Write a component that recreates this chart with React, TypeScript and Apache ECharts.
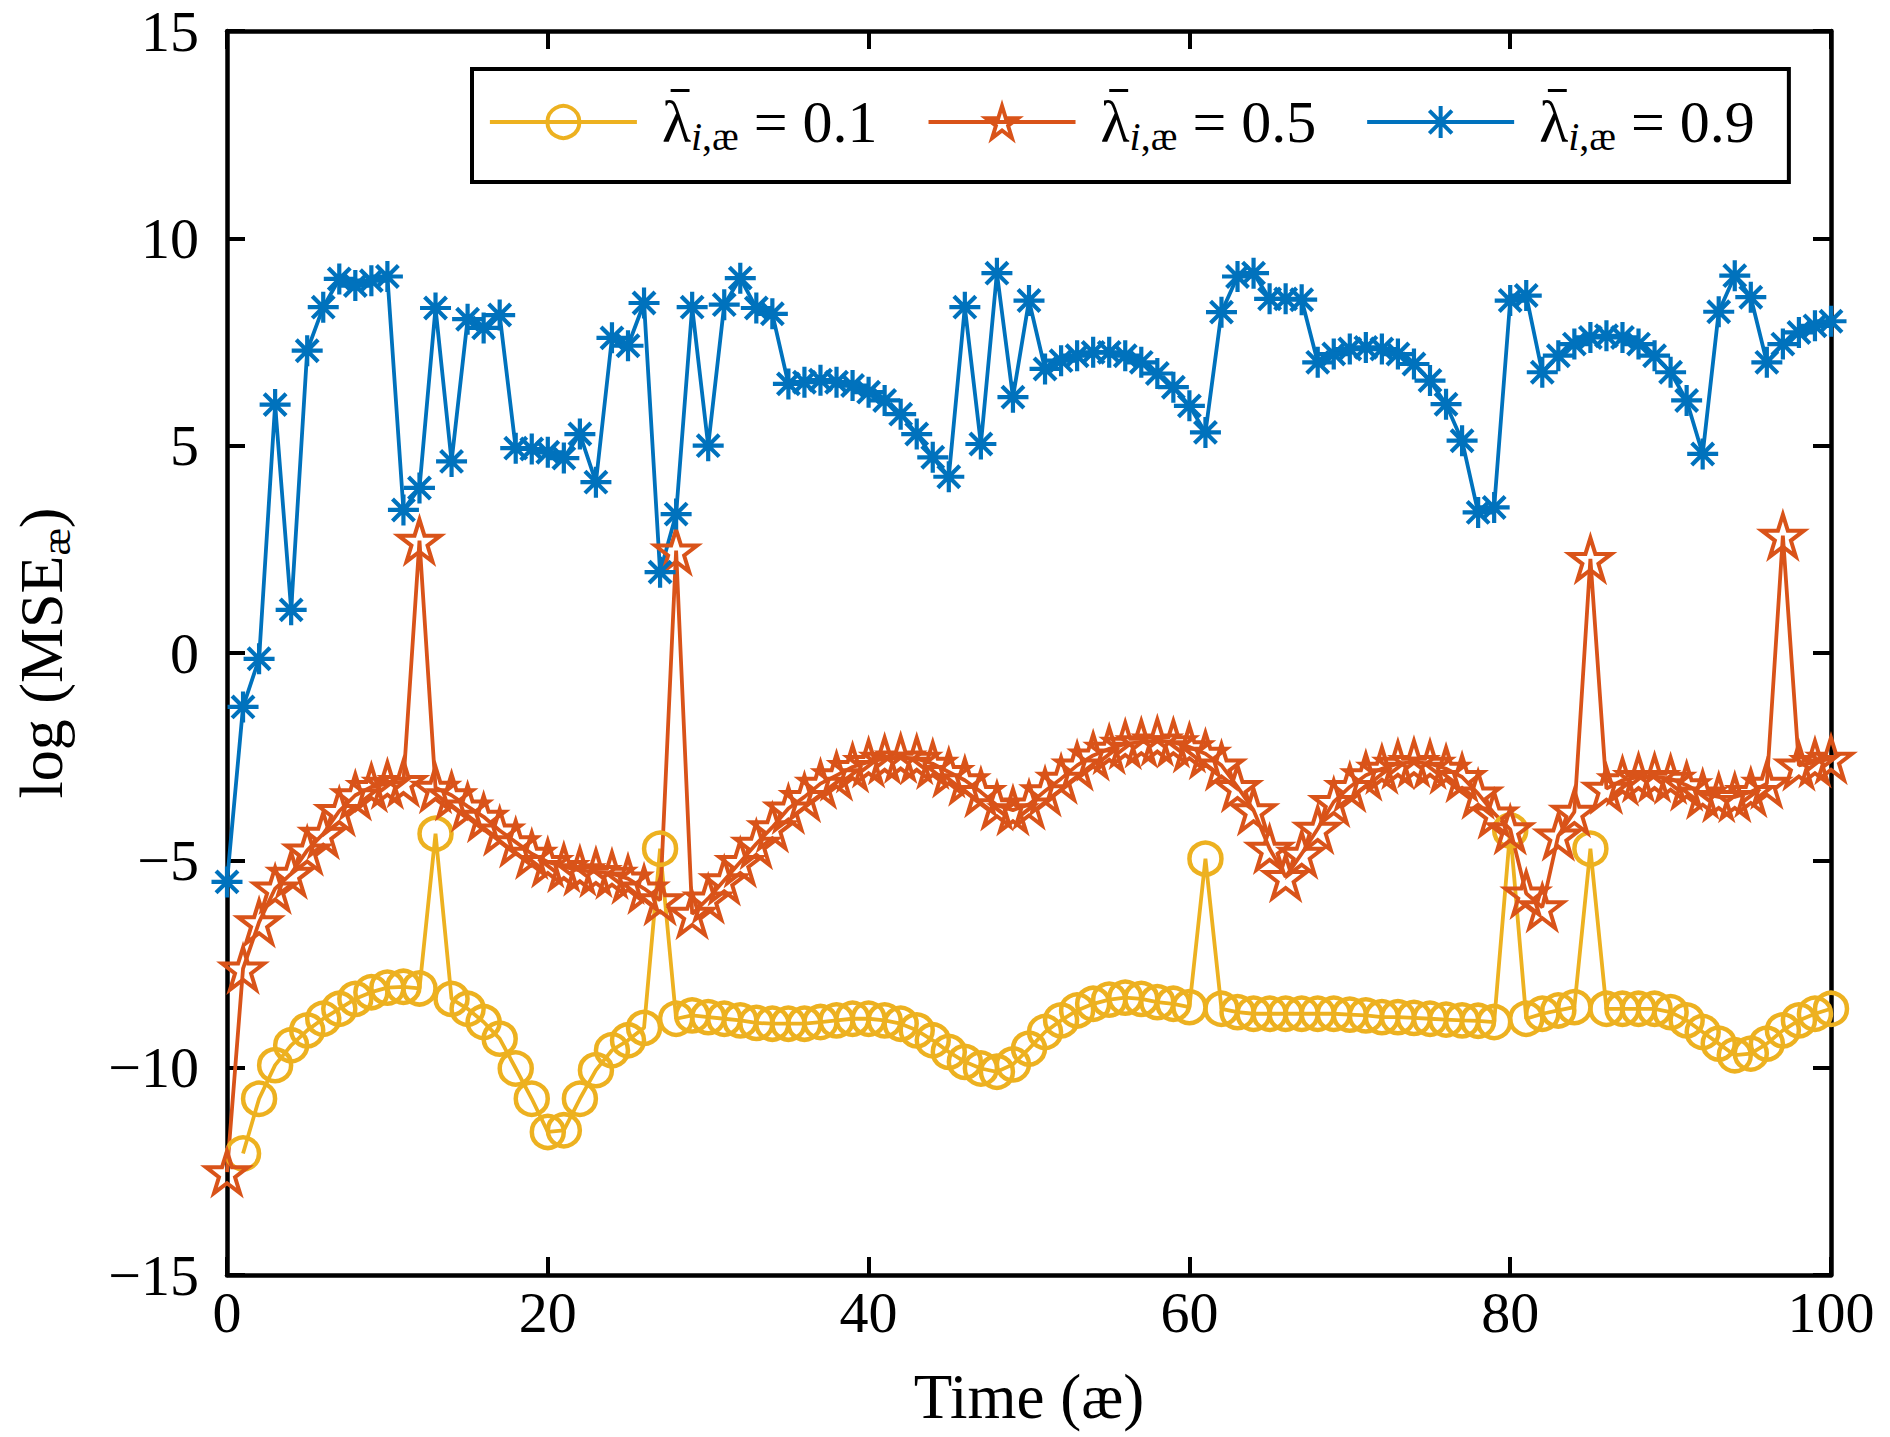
import React, { useEffect, useRef } from "react";
import * as echarts from "echarts";

// ---- data ----
const xTicks = [0, 20, 40, 60, 80, 100];
const yTicks = [-15, -10, -5, 0, 5, 10, 15];
const seriesLabels = ["0.1", "0.5", "0.9"];

const lambda01: (number | null)[] = [
  null, -12.07, -10.75, -9.94, -9.46, -9.1, -8.82, -8.58, -8.34, -8.18,
  -8.07, -8.05, -8.09, -4.36, -8.34, -8.58, -8.9, -9.3, -10.02, -10.75,
  -11.55, -11.51, -10.75, -10.06, -9.58, -9.34, -9.04, -4.72, -8.82, -8.74,
  -8.78, -8.82, -8.86, -8.92, -8.94, -8.94, -8.94, -8.9, -8.86, -8.82,
  -8.82, -8.86, -8.94, -9.1, -9.34, -9.62, -9.86, -10.02, -10.1, -9.92,
  -9.54, -9.14, -8.86, -8.62, -8.46, -8.36, -8.31, -8.34, -8.42, -8.46,
  -8.54, -4.96, -8.58, -8.66, -8.7, -8.7, -8.7, -8.7, -8.7, -8.7,
  -8.72, -8.74, -8.78, -8.78, -8.8, -8.82, -8.84, -8.86, -8.87, -8.9,
  -4.28, -8.82, -8.7, -8.62, -8.54, -4.72, -8.58, -8.58, -8.58, -8.58,
  -8.66, -8.86, -9.14, -9.42, -9.7, -9.66, -9.42, -9.1, -8.86, -8.7,
  -8.58,
];

const lambda05 = [
  -12.52, -7.61, -6.49, -5.68, -5.32, -4.76, -4.36, -3.81, -3.43, -3.23,
  -3.15, -3.11, 2.71, -3.25, -3.43, -3.7, -3.95, -4.28, -4.56, -4.84,
  -5.04, -5.16, -5.24, -5.28, -5.32, -5.44, -5.68, -5.96, 2.47, -6.29,
  -5.92, -5.48, -5.04, -4.6, -4.2, -3.75, -3.47, -3.15, -2.95, -2.75,
  -2.63, -2.55, -2.52, -2.55, -2.67, -2.87, -3.07, -3.35, -3.67, -3.79,
  -3.65, -3.33, -3.03, -2.71, -2.47, -2.31, -2.19, -2.15, -2.11, -2.15,
  -2.27, -2.43, -2.71, -3.23, -3.79, -4.72, -5.4, -4.84, -4.24, -3.59,
  -3.23, -2.95, -2.79, -2.67, -2.63, -2.67, -2.79, -2.99, -3.39, -3.87,
  -4.25, -5.8, -6.13, -4.4, -3.83, 2.27, -3.27, -3.07, -2.99, -2.99,
  -3.03, -3.19, -3.39, -3.47, -3.47, -3.35, -3.15, 2.83, -2.71, -2.63,
  -2.55,
];

const lambda09 = [
  -5.52, -1.3, -0.14, 5.99, 1.04, 7.29, 8.34, 9.02, 8.86, 8.98,
  9.08, 3.45, 3.98, 8.32, 4.62, 8.05, 7.84, 8.15, 4.94, 4.92,
  4.84, 4.7, 5.28, 4.12, 7.6, 7.41, 8.44, 1.95, 3.35, 8.34,
  5.0, 8.4, 9.04, 8.32, 8.18, 6.49, 6.53, 6.58, 6.53, 6.45,
  6.29, 6.09, 5.76, 5.28, 4.72, 4.25, 8.34, 5.04, 9.16, 6.17,
  8.5, 6.85, 7.05, 7.17, 7.25, 7.25, 7.17, 7.01, 6.74, 6.41,
  5.96, 5.32, 8.22, 9.08, 9.16, 8.54, 8.54, 8.52, 7.01, 7.21,
  7.33, 7.37, 7.33, 7.21, 6.97, 6.57, 6.0, 5.12, 3.39, 3.51,
  8.5, 8.62, 6.77, 7.17, 7.45, 7.61, 7.65, 7.61, 7.45, 7.17,
  6.77, 6.09, 4.8, 8.23, 9.1, 8.58, 7.01, 7.45, 7.73, 7.89,
  8.0,
];

// ---- styling ----
const FONT = "Liberation Serif";
const YELLOW = "#EDB120";
const ORANGE = "#D95319";
const BLUE = "#0072BD";
const LAMBDA = "\u03BB";
const STAR =
  "path://M0,-1L0.2245,-0.309L0.9511,-0.309L0.3633,0.118L0.5878,0.809L0,0.382L-0.5878,0.809L-0.3633,0.118L-0.9511,-0.309L-0.2245,-0.309Z";
const ASTERISK =
  "path://M0,-1L0,1M-1,0L1,0M-0.707,-0.707L0.707,0.707M-0.707,0.707L0.707,-0.707";

const toPairs = (arr: (number | null)[]) => arr.map((v, i) => [i, v == null ? "-" : v]);
const fmtNum = (v: number) => (v < 0 ? "\u2212" + Math.abs(v) : String(v));

function baseAxis() {
  return {
    axisLine: { show: true, onZero: false, lineStyle: { color: "#000", width: 4.5 } },
    axisTick: { show: true, inside: true, length: 18, lineStyle: { color: "#000", width: 4 } },
    splitLine: { show: false },
  };
}

export default function App() {
  const ref = useRef<HTMLDivElement>(null);

  useEffect(() => {
    if (!ref.current) return;
    const chart = echarts.init(ref.current, undefined, { renderer: "svg" });
    const xMin = xTicks[0];
    const xMax = xTicks[xTicks.length - 1];
    const xInt = xTicks[1] - xTicks[0];
    const yMin = yTicks[0];
    const yMax = yTicks[yTicks.length - 1];
    const yInt = yTicks[1] - yTicks[0];

    const mkLine = (
      name: string,
      data: (number | null)[],
      color: string,
      symbol: string,
      symbolSize: number,
      borderWidth: number
    ) => ({
      type: "line",
      name,
      data: toPairs(data),
      xAxisIndex: 0,
      yAxisIndex: 0,
      color,
      symbol,
      symbolSize,
      showAllSymbol: true,
      connectNulls: false,
      lineStyle: { color, width: 3.8 },
      itemStyle: { color: "rgba(0,0,0,0)", borderColor: color, borderWidth },
      emphasis: { disabled: true },
      clip: false,
    });

    chart.setOption({
      animation: false,
      backgroundColor: "#fff",
      textStyle: { fontFamily: FONT },
      grid: { left: 227, top: 31, width: 1604, height: 1244, containLabel: false },
      legend: {
        show: true,
        left: 472,
        top: 69,
        orient: "horizontal",
        borderColor: "#000",
        borderWidth: 4,
        padding: [23, 34, 26, 16],
        itemGap: 49,
        itemWidth: 147,
        itemHeight: 40,
        itemStyle: { borderWidth: 4 },
        lineStyle: { width: 3.8 },
        data: seriesLabels,
        formatter: (name: string) => `{l|${LAMBDA}}{s|i}{c|,æ}{n| = ${name}}`,
        textStyle: {
          fontFamily: FONT,
          fontSize: 60,
          color: "#000",
          rich: {
            l: { fontFamily: FONT, fontSize: 60, color: "#000", padding: [0, 0, 0, 20] },
            s: { fontFamily: FONT, fontSize: 40, fontStyle: "italic", color: "#000", padding: [28, 0, 0, 0] },
            c: { fontFamily: FONT, fontSize: 40, color: "#000", padding: [28, 0, 0, 0] },
            n: { fontFamily: FONT, fontSize: 60, color: "#000" },
          },
        },
      },
      xAxis: [
        {
          ...baseAxis(),
          type: "value",
          position: "bottom",
          min: xMin,
          max: xMax,
          interval: xInt,
          axisLabel: { fontFamily: FONT, fontSize: 58, color: "#000", margin: 8 },
          name: "Time (æ)",
          nameLocation: "middle",
          nameGap: 90,
          nameTextStyle: { fontFamily: FONT, fontSize: 63, color: "#000" },
        },
        {
          ...baseAxis(),
          type: "value",
          position: "top",
          min: xMin,
          max: xMax,
          interval: xInt,
          axisLabel: { show: false },
        },
      ],
      yAxis: [
        {
          ...baseAxis(),
          type: "value",
          position: "left",
          min: yMin,
          max: yMax,
          interval: yInt,
          axisLabel: {
            fontFamily: FONT,
            fontSize: 58,
            color: "#000",
            margin: 28,
            formatter: (v: number) => fmtNum(v),
          },
          name: "{m|log (MSE}{s|æ}{m|)}",
          nameLocation: "middle",
          nameRotate: 90,
          nameGap: 151,
          nameTextStyle: {
            fontFamily: FONT,
            fontSize: 62,
            color: "#000",
            rich: {
              m: { fontFamily: FONT, fontSize: 62, color: "#000" },
              s: { fontFamily: FONT, fontSize: 41, color: "#000", padding: [29, 0, 0, 0] },
            },
          },
        },
        {
          ...baseAxis(),
          type: "value",
          position: "right",
          min: yMin,
          max: yMax,
          interval: yInt,
          axisLabel: { show: false },
        },
      ],
      series: [
        mkLine(seriesLabels[0], lambda01, YELLOW, "circle", 32, 4.5),
        mkLine(seriesLabels[1], lambda05, ORANGE, STAR, 42, 4),
        mkLine(seriesLabels[2], lambda09, BLUE, ASTERISK, 31, 4.2),
      ],
    });

    // Bars over the legend's lambdas, placed from the rendered glyph boxes.
    let done = false;
    const addBars = () => {
      const root = ref.current;
      if (done || !root) return true;
      const base = root.getBoundingClientRect();
      const texts = Array.from(root.querySelectorAll("text")).filter(
        (t) => (t.textContent || "").trim() === LAMBDA
      );
      if (!texts.length) return false;
      const bars = texts.map((t) => {
        const r = t.getBoundingClientRect();
        const x = r.left - base.left;
        const y = r.top - base.top;
        const w = r.width;
        return {
          type: "line",
          silent: true,
          z: 200,
          shape: { x1: x + w * 0.3, y1: y + 1.5, x2: x + w * 0.95, y2: y + 1.5 },
          style: { stroke: "#000", lineWidth: 3 },
        };
      });
      done = true;
      chart.setOption({ graphic: bars });
      return true;
    };
    let timer: any = null;
    if (!addBars()) timer = setTimeout(addBars, 30);

    return () => {
      if (timer) clearTimeout(timer);
      chart.dispose();
    };
  }, []);

  return (
    <div
      ref={ref}
      style={{ position: "absolute", left: 0, top: 0, width: 1890, height: 1437, background: "#fff" }}
    />
  );
}
